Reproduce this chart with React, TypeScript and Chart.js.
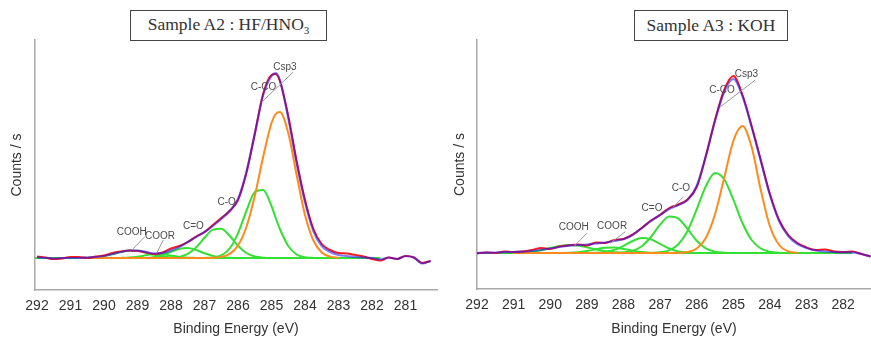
import React, { useEffect, useRef } from 'react';
import { Chart, registerables } from 'chart.js';

Chart.register(...registerables);

// ---------- Sample A2 : HF/HNO3 ----------
const A2_ticks = [292, 291, 290, 289, 288, 287, 286, 285, 284, 283, 282, 281];
const A2_E = [292, 291.75, 291.5, 291.25, 291, 290.75, 290.5, 290.25, 290, 289.75, 289.5, 289.25, 289, 288.75, 288.5, 288.25, 288, 287.75, 287.5, 287.25, 287, 286.75, 286.5, 286.25, 286, 285.75, 285.5, 285.25, 285, 284.875, 284.75, 284.5, 284.25, 284, 283.75, 283.5, 283.25, 283, 282.75, 282.5, 282.25, 282, 281.75, 281.5, 281.25, 281, 280.75, 280.5, 280.25];
const A2_data = [1.5, 0.5, -1, -0.5, 1, 1, 0, 1.5, 2.5, 5, 6.5, 7.5, 7, 5.5, 4, 5.5, 9.5, 12, 16, 21.5, 26, 33, 40, 47, 58, 85, 124, 164, 183, 184, 177, 142, 97, 58, 29, 14, 8, 5, 4.5, 3, 1.5, -1, -2.5, 0.5, -1, 2, 0.5, -5, -3];
const A2_fit = [0.5, 0, -0.5, 0, 0, 0, 0.5, 1, 2, 4, 6, 7.5, 7.5, 6, 4.5, 5, 7.5, 11, 16, 21, 26, 32, 39, 47, 59, 86, 124, 163, 182, 185, 178, 140, 95, 56, 27, 12, 6, 3, 2, 1, 0.5, 0, -1.5, 0.5, -1, 2, 0.5, -5.5, -3];
const A2_compE = [290.75, 290.5, 290.25, 290, 289.75, 289.5, 289.25, 289, 288.75, 288.5, 288.25, 288, 287.75, 287.5, 287.25, 287, 286.75, 286.5, 286.25, 286, 285.75, 285.5, 285.25, 285, 284.875, 284.75, 284.5, 284.25, 284, 283.75, 283.5, 283.25, 283];
const A2_COOH = [0, 0.2, 0.7, 1.8, 3.7, 5.9, 7.3, 7.2, 5.4, 3.2, 1.5, 0.5, 0.1, 0, 0, 0, 0, 0, 0, 0, 0, 0, 0, 0, 0, 0, 0, 0, 0, 0, 0, 0, 0];
const A2_COOR = [0, 0, 0, 0, 0, 0.1, 0.4, 1.3, 2.7, 3.9, 3.7, 2.4, 1.1, 0.3, 0.1, 0, 0, 0, 0, 0, 0, 0, 0, 0, 0, 0, 0, 0, 0, 0, 0, 0, 0];
const A2_CdO = [0, 0, 0, 0, 0, 0, 0, 0, 0, 1.1, 3, 6.1, 9.1, 10, 8, 4.7, 2.1, 0.7, 0.2, 0, 0, 0, 0, 0, 0, 0, 0, 0, 0, 0, 0, 0, 0];
const A2_CO = [0, 0, 0, 0, 0, 0, 0, 0, 0, 0, 0, 0.2, 1.1, 4.1, 10.6, 20.2, 28.4, 29.3, 22.2, 12.3, 5, 1.5, 0.3, 0, 0, 0, 0, 0, 0, 0, 0, 0, 0];
const A2_CCO = [0, 0, 0, 0, 0, 0, 0, 0, 0, 0, 0, 0, 0, 0, 0, 0.1, 0.6, 2.7, 9.5, 24.7, 47, 66, 68, 52, 40, 29, 12, 3.5, 0.8, 0.1, 0, 0, 0];
const A2_Csp3 = [0, 0, 0, 0, 0, 0, 0, 0, 0, 0, 0, 0, 0, 0, 0, 0, 0.2, 1.1, 4.1, 12.5, 31, 62, 101, 135, 144, 146, 125, 83, 43, 17.5, 5.5, 1.4, 0.3];
const A2_baseE = [292.06, 281.75];
const A2_base = [0, 0];
const A2_labels = ['Csp3', 'C-CO', 'C-O', 'C=O', 'COOH', 'COOR'];
const A2_labelE = [284.6, 285.24, 286.34, 287.33, 289.17, 288.33];
const A2_labelH = [191, 170.5, 55.5, 32, 25.3, 22];
const A2_leaders = [[284.35, 186, 285.29, 156], [288.78, 21.3, 289.17, 8], [288.23, 18, 288.43, 4.7]];

// ---------- Sample A3 : KOH ----------
const A3_ticks = [292, 291, 290, 289, 288, 287, 286, 285, 284, 283, 282];
const A3_E = [292, 291.75, 291.5, 291.25, 291, 290.75, 290.5, 290.25, 290, 289.75, 289.5, 289.25, 289, 288.75, 288.5, 288.25, 288, 287.75, 287.5, 287.25, 287, 286.75, 286.5, 286.25, 286, 285.75, 285.5, 285.25, 285, 284.75, 284.5, 284.25, 284, 283.75, 283.5, 283.25, 283, 282.75, 282.5, 282.25, 282, 281.75, 281.5, 281.25];
const A3_data = [-0.5, 0.5, 0, 1.5, 1, 1.5, 3, 5, 4, 6.5, 7.5, 8.5, 7.5, 10.5, 10, 13, 14, 18.5, 25, 32.5, 38, 45, 48.5, 53.5, 66, 97, 133, 163, 177, 158, 127, 93, 59, 33, 18, 10, 5.5, 3, 3.5, 1.5, 1, 1.5, -1, -3.5];
const A3_fit = [0, 0.3, 0.5, 0.8, 1, 1.3, 2, 3, 4.5, 6, 7.3, 8, 8.5, 9.5, 10.5, 12, 14, 18, 25, 32, 38, 44, 48, 53, 67, 97, 132, 161, 174, 157, 126, 92, 58, 32, 17, 9, 5, 2.5, 1.5, 1, 0.7, 0.7, -1, -3.5];
const A3_compE = [291, 290.75, 290.5, 290.25, 290, 289.75, 289.5, 289.25, 289, 288.75, 288.5, 288.25, 288, 287.75, 287.5, 287.25, 287, 286.75, 286.5, 286.25, 286, 285.75, 285.5, 285.25, 285, 284.75, 284.5, 284.25, 284, 283.75, 283.5, 283.25];
const A3_COOH = [0.2, 0.5, 1.3, 2.8, 4.9, 6.9, 8, 7.5, 5.7, 3.6, 1.8, 0.7, 0.2, 0, 0, 0, 0, 0, 0, 0, 0, 0, 0, 0, 0, 0, 0, 0, 0, 0, 0, 0];
const A3_COOR = [0, 0, 0, 0, 0, 0, 0.2, 0.7, 1.9, 3.7, 5.2, 5.4, 4.1, 2.3, 0.9, 0.3, 0, 0, 0, 0, 0, 0, 0, 0, 0, 0, 0, 0, 0, 0, 0, 0];
const A3_CdO = [0, 0, 0, 0, 0, 0, 0, 0, 0, 0.2, 1, 3.1, 7.1, 12, 15, 13.6, 9.1, 4.5, 1.6, 0.4, 0, 0, 0, 0, 0, 0, 0, 0, 0, 0, 0, 0];
const A3_CO = [0, 0, 0, 0, 0, 0, 0, 0, 0, 0, 0, 0, 0.5, 2.1, 6.8, 16, 28.3, 36.4, 34.4, 24, 12.2, 4.6, 1.3, 0.3, 0, 0, 0, 0, 0, 0, 0, 0];
const A3_CCO = [0, 0, 0, 0, 0, 0, 0, 0, 0, 0, 0, 0, 0, 0, 0, 0.1, 0.7, 2.7, 8.8, 22, 43.7, 66.8, 80, 73.8, 53.4, 30, 13, 4.5, 1.2, 0.2, 0, 0];
const A3_Csp3 = [0, 0, 0, 0, 0, 0, 0, 0, 0, 0, 0, 0, 0, 0, 0, 0, 0, 0, 0.2, 1, 4.5, 15, 38.7, 75, 112, 127, 106, 63, 26.7, 8, 1.7, 0.3];
const A3_baseE = [292, 281.75];
const A3_base = [0, 0];
const A3_labels = ['Csp3', 'C-CO', 'C-O', 'C=O', 'COOH', 'COOR'];
const A3_labelE = [284.64, 285.31, 286.43, 287.22, 289.36, 288.31];
const A3_labelH = [179, 162.3, 64.7, 44.3, 25.3, 27];
const A3_leaders = [[284.4, 173, 285.35, 146.3], [286.36, 56.3, 286.63, 46.3], [289.0, 19.7, 289.36, 6.3], [287.95, 21.3, 288.36, 9.7]];

const SANS = '"Liberation Sans", Arial, Helvetica, sans-serif';
const GREEN = '#35e035';
const ORANGE = '#ff8a1c';
const RED = '#ff1a1a';
const BLUE = 'rgba(20, 20, 255, 0.55)';

const pts = (E: number[], v: number[]) => E.map((e, i) => ({ x: e, y: v[i] }));

const annotPlugin = {
  id: 'annot',
  afterDatasetsDraw(chart: any, _args: any, opts: any) {
    const { ctx } = chart;
    const xs = chart.scales.x;
    const ys = chart.scales.y;
    ctx.save();
    ctx.font = '10px ' + SANS;
    ctx.fillStyle = '#4a4a4a';
    ctx.textAlign = 'center';
    ctx.textBaseline = 'middle';
    opts.labels.forEach((t: string, i: number) => {
      ctx.fillText(t, xs.getPixelForValue(opts.labelE[i]), ys.getPixelForValue(opts.labelH[i]));
    });
    ctx.strokeStyle = '#9a9a9a';
    ctx.lineWidth = 1;
    opts.leaders.forEach((l: number[]) => {
      ctx.beginPath();
      ctx.moveTo(xs.getPixelForValue(l[0]), ys.getPixelForValue(l[1]));
      ctx.lineTo(xs.getPixelForValue(l[2]), ys.getPixelForValue(l[3]));
      ctx.stroke();
    });
    ctx.restore();
  },
};

type PanelProps = {
  left: number; width: number; ticks: number[];
  E: number[]; data: number[]; fit: number[];
  compE: number[]; comps: number[][]; csp3: number[];
  baseE: number[]; base: number[];
  xmin: number; xmax: number; ymin: number; ymax: number;
  yAxisW: number; xAxisH: number; padRight: number; yTitlePad: number;
  labels: string[]; labelE: number[]; labelH: number[]; leaders: number[][];
};

function Panel(p: PanelProps) {
  const ref = useRef<HTMLCanvasElement | null>(null);
  useEffect(() => {
    if (!ref.current) return;
    const line = (d: any[], color: string, w = 2) => ({
      data: d, borderColor: color, borderWidth: w, pointRadius: 0,
      cubicInterpolationMode: 'monotone' as const, fill: false,
    });
    // first dataset is drawn on top in Chart.js
    const datasets: any[] = [
      line(pts(p.E, p.fit), BLUE, 2.2),
      line(pts(p.E, p.data), RED),
      line(pts(p.compE, p.csp3), ORANGE),
      ...p.comps.map((c) => line(pts(p.compE, c), GREEN)),
      line(pts(p.baseE, p.base), GREEN),
    ];
    const chart = new Chart(ref.current, {
      type: 'line',
      data: { datasets },
      plugins: [annotPlugin as any],
      options: {
        animation: false,
        responsive: false,
        maintainAspectRatio: false,
        layout: { padding: { top: 40, right: p.padRight, left: 0, bottom: 0 } },
        plugins: {
          legend: { display: false },
          tooltip: { enabled: false },
          annot: { labels: p.labels, labelE: p.labelE, labelH: p.labelH, leaders: p.leaders },
        } as any,
        scales: {
          x: {
            type: 'linear', reverse: true, min: p.xmin, max: p.xmax,
            grid: { display: false, drawTicks: false },
            border: { display: true, color: '#a8a8a8', width: 1.5 },
            ticks: {
              padding: 8, autoSkip: false, maxRotation: 0,
              color: '#333', font: { size: 14, family: SANS },
              callback: (v: any) => String(v),
            },
            afterBuildTicks: (s: any) => { s.ticks = p.ticks.map((v) => ({ value: v })); },
            title: {
              display: true, text: 'Binding Energy (eV)', color: '#333',
              font: { size: 14, family: SANS }, padding: { top: 0, bottom: 1 },
            },
            afterFit: (s: any) => { s.height = p.xAxisH; },
          },
          y: {
            type: 'linear', min: p.ymin, max: p.ymax,
            grid: { display: false, drawTicks: false },
            border: { display: true, color: '#a8a8a8', width: 1.5 },
            ticks: { display: false },
            title: {
              display: true, text: 'Counts / s', color: '#333',
              font: { size: 14, family: SANS }, padding: { top: p.yTitlePad, bottom: 0 },
            },
            afterFit: (s: any) => { s.width = p.yAxisW; },
          },
        },
      } as any,
    });
    return () => chart.destroy();
  }, []);
  return (
    <canvas
      ref={ref}
      width={p.width}
      height={339}
      style={{ position: 'absolute', left: p.left, top: 0, width: p.width, height: 339 }}
    />
  );
}

const boxStyle: React.CSSProperties = {
  position: 'absolute', top: 10, height: 31, boxSizing: 'border-box',
  border: '1.5px solid #444', display: 'flex', alignItems: 'center', justifyContent: 'center',
  fontFamily: '"Liberation Serif", "Times New Roman", serif', fontSize: 17.5, color: '#333',
  background: '#fff', lineHeight: 1, whiteSpace: 'nowrap',
};

export default function App() {
  return (
    <div style={{ position: 'absolute', left: 0, top: 0, width: 871, height: 339, background: '#fff', overflow: 'hidden' }}>
      <Panel
        left={0} width={440} ticks={A2_ticks}
        E={A2_E} data={A2_data} fit={A2_fit}
        compE={A2_compE} comps={[A2_COOH, A2_COOR, A2_CdO, A2_CO, A2_CCO]} csp3={A2_Csp3}
        baseE={A2_baseE} base={A2_base}
        xmin={280.06} xmax={292.06} ymin={-32} ymax={218}
        yAxisW={35} xAxisH={49} padRight={3} yTitlePad={9}
        labels={A2_labels} labelE={A2_labelE} labelH={A2_labelH} leaders={A2_leaders}
      />
      <Panel
        left={440} width={431} ticks={A3_ticks}
        E={A3_E} data={A3_data} fit={A3_fit}
        compE={A3_compE} comps={[A3_COOH, A3_COOR, A3_CdO, A3_CO, A3_CCO]} csp3={A3_Csp3}
        baseE={A3_baseE} base={A3_base}
        xmin={281.24} xmax={292.0} ymin={-36} ymax={213}
        yAxisW={37} xAxisH={50} padRight={0} yTitlePad={12}
        labels={A3_labels} labelE={A3_labelE} labelH={A3_labelH} leaders={A3_leaders}
      />
      <div style={{ ...boxStyle, left: 130, width: 197 }}>
        <span>Sample A2 : HF/HNO<sub style={{ fontSize: 11, verticalAlign: '-4px' }}>3</sub></span>
      </div>
      <div style={{ ...boxStyle, left: 634, width: 154 }}>
        <span>Sample A3 : KOH</span>
      </div>
    </div>
  );
}
